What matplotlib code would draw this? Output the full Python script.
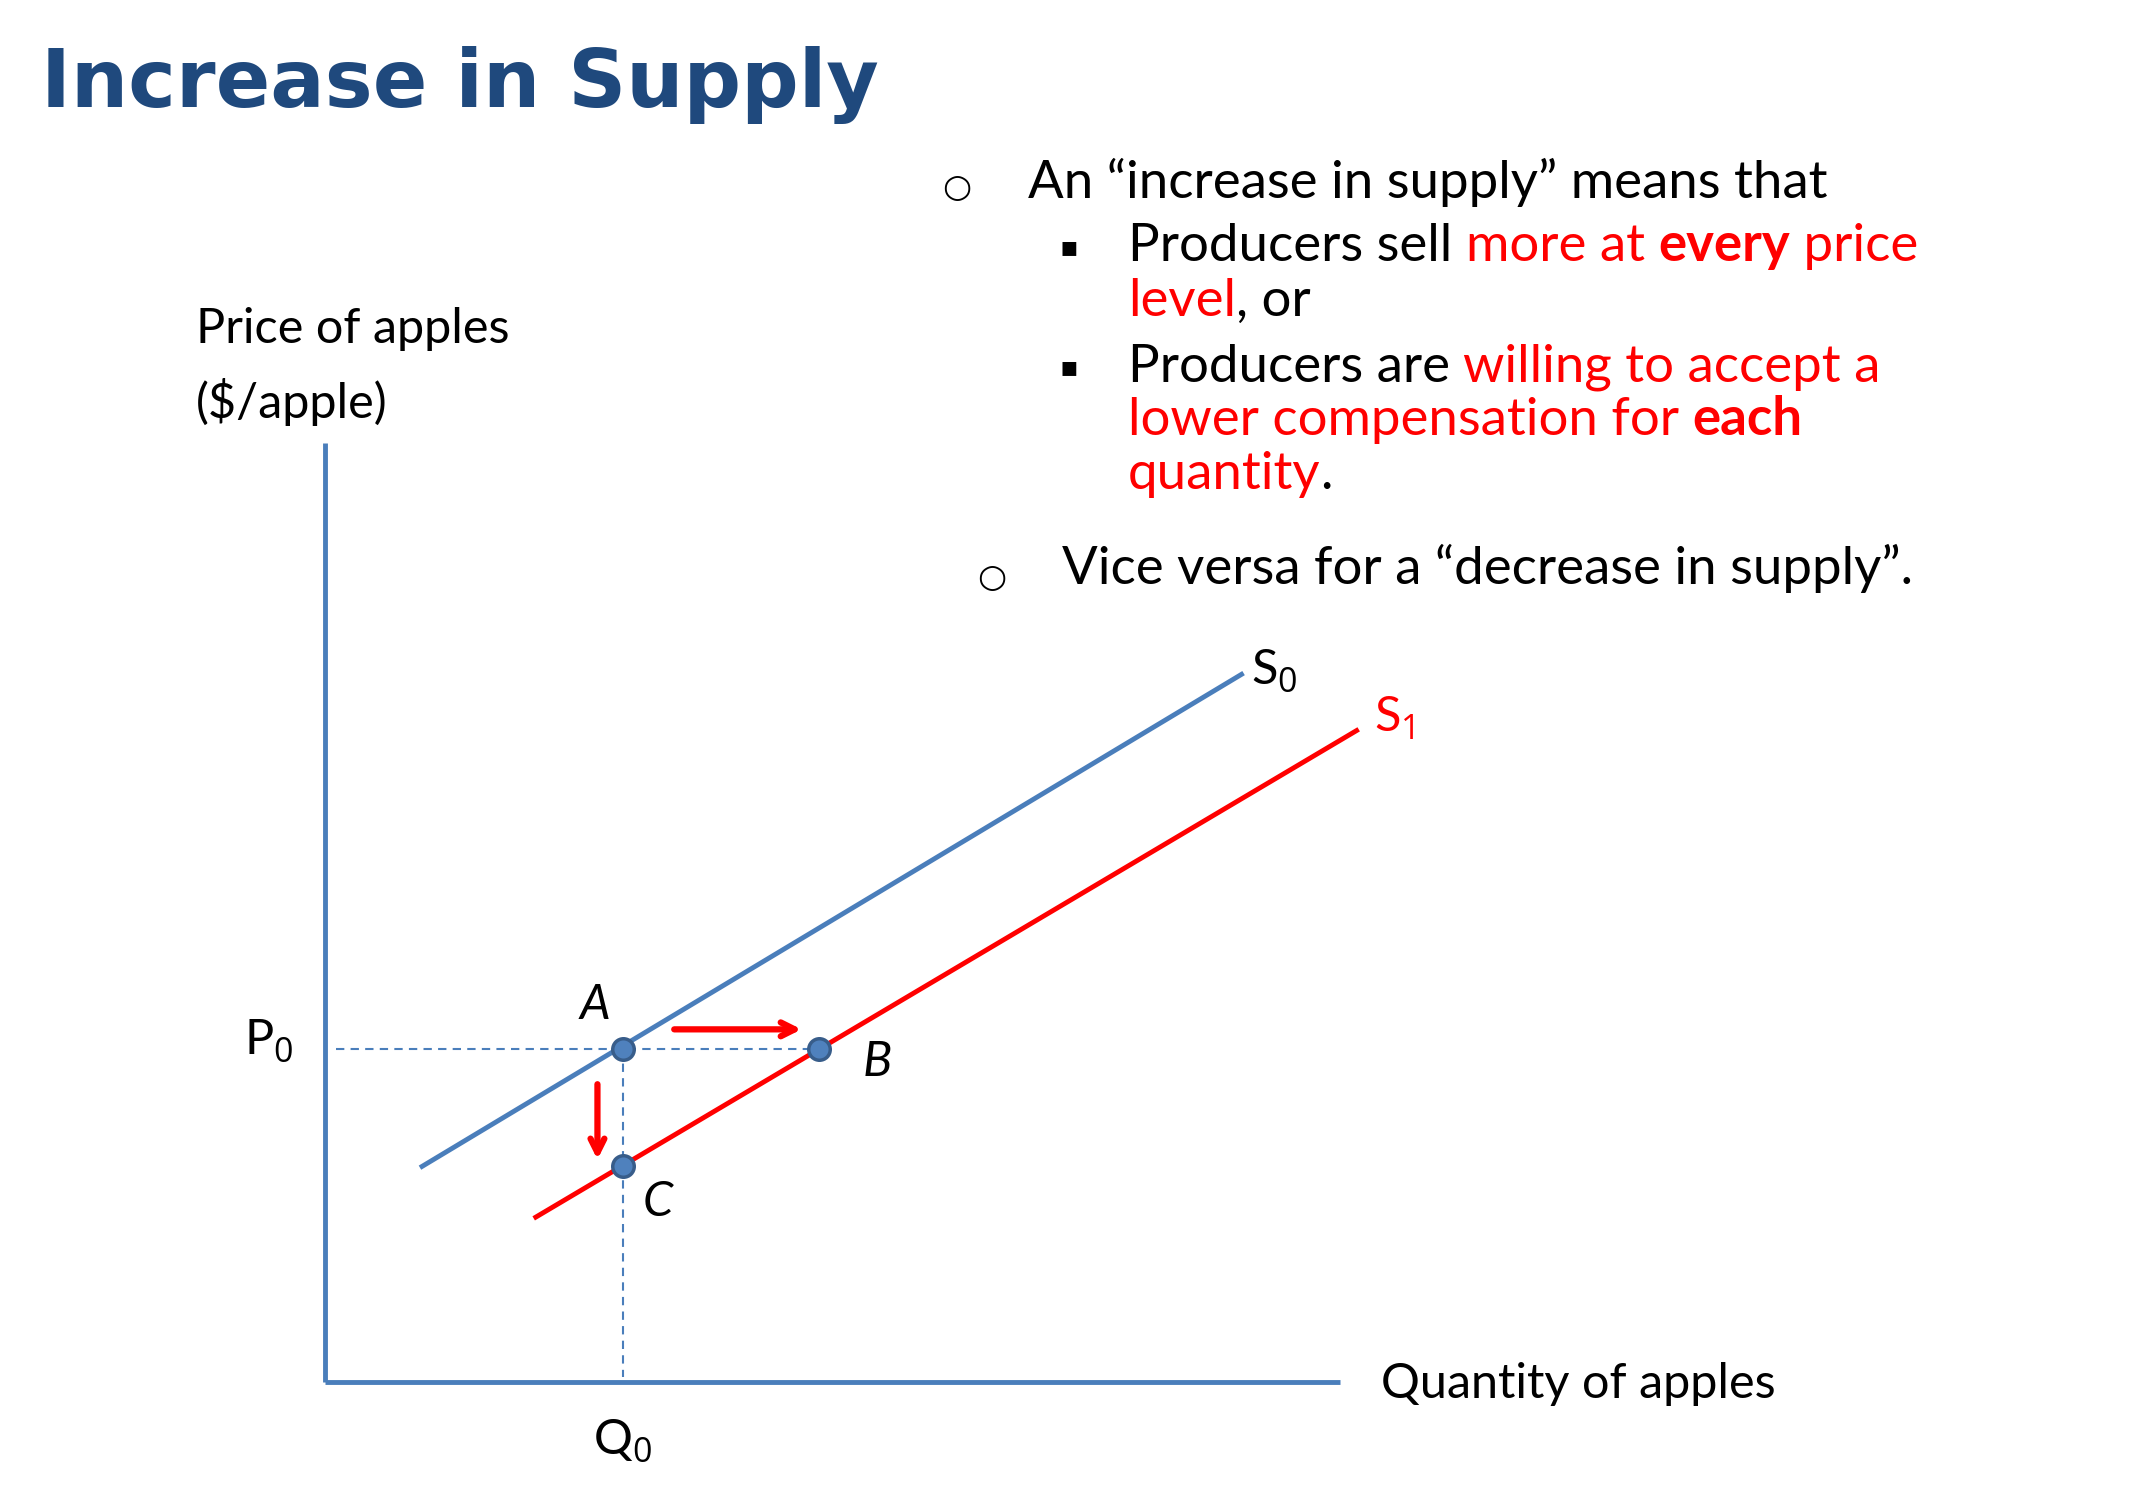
import matplotlib
matplotlib.use("Agg")
import matplotlib.pyplot as plt

plt.rcParams['font.family'] = 'Lato'
plt.rcParams['mathtext.fontset'] = 'custom'
plt.rcParams['mathtext.rm'] = 'Open Sans'
plt.rcParams['mathtext.it'] = 'Open Sans:italic'

BLUE = '#4A7EBB'
RED = '#FF0000'
TITLE = '#1F497D'

# data (slide pixel space)
s0_x = [308, 906]; s0_y = [851, 492]
s1_x = [391, 990]; s1_y = [888, 533]
pt_names = ['A', 'B', 'C']
pt_x = [455, 598, 455]
pt_y = [765, 765, 851]

fig = plt.figure(figsize=(21.5, 14.94), dpi=100)
ax = fig.add_axes([0, 0, 1, 1])
ax.set_xlim(0, 1569); ax.set_ylim(1090, 0); ax.axis('off')

ax.text(30, 62, 'Increase in Supply', fontsize=58, fontweight='bold',
        color=TITLE, family='DejaVu Sans', va='center')

def seg_line(x, y, segs, fs=38):
    prev = None
    for s, c, w in segs:
        if prev is None:
            prev = ax.text(x, y, s, color=c, fontweight=w, fontsize=fs, va='center')
        else:
            prev = ax.annotate(s, xy=(1, 0), xycoords=prev, color=c, fontweight=w,
                               fontsize=fs, va='bottom', ha='left')
K = 'black'
ax.text(698, 137, '○', fontsize=24, ha='center', va='center', family='DejaVu Sans')
seg_line(750, 133, [('An “increase in supply” means that', K, 'normal')])
for yy in (180, 268):
    ax.text(780, yy, '▪', fontsize=20, ha='center', va='center', family='DejaVu Sans')
seg_line(823, 180, [('Producers sell ', K, 'normal'), ('more at ', RED, 'normal'),
                    ('every', RED, 'bold'), (' price', RED, 'normal')])
seg_line(823, 220, [('level', RED, 'normal'), (', or', K, 'normal')])
seg_line(823, 268, [('Producers are ', K, 'normal'), ('willing to accept a', RED, 'normal')])
seg_line(823, 307, [('lower compensation for ', RED, 'normal'), ('each', RED, 'bold')])
seg_line(823, 346, [('quantity', RED, 'normal'), ('.', K, 'normal')])
ax.text(724, 421, '○', fontsize=24, ha='center', va='center', family='DejaVu Sans')
seg_line(775, 415, [('Vice versa for a “decrease in supply”.', K, 'normal')])

LF = 35
ax.text(143, 240, 'Price of apples', fontsize=LF, va='center')
ax.text(143, 293, '($/apple)', fontsize=LF, va='center')
ax.text(1008, 1010, 'Quantity of apples', fontsize=LF, va='center')

# axes
ax.plot([237, 237], [323, 1008], color=BLUE, lw=3.5, solid_capstyle='butt')
ax.plot([237, 978], [1008, 1008], color=BLUE, lw=3.5, solid_capstyle='butt')

# dashed guides
ax.plot([245, pt_x[1]], [pt_y[0], pt_y[0]], color=BLUE, lw=1.5, ls=(0, (4, 3)))
ax.plot([pt_x[0], pt_x[0]], [pt_y[0], 1005], color=BLUE, lw=1.5, ls=(0, (4, 3)))

ax.plot(s0_x, s0_y, color=BLUE, lw=3.5)
ax.plot(s1_x, s1_y, color=RED, lw=3.5)

ax.annotate('', xy=(587, 751), xytext=(490, 751),
            arrowprops=dict(arrowstyle='->,head_length=1.0,head_width=0.5', color=RED, lw=4.5))
ax.annotate('', xy=(436, 848), xytext=(436, 789),
            arrowprops=dict(arrowstyle='->,head_length=1.0,head_width=0.5', color=RED, lw=4.5))

ax.scatter(pt_x, pt_y, s=240, color='#4F81BD', edgecolor='#385D8A', linewidth=2.5, zorder=5)

ax.text(434, 733, 'A', fontsize=LF, style='italic', ha='center', va='center')
ax.text(640, 775, 'B', fontsize=LF, style='italic', ha='center', va='center')
ax.text(480, 877, 'C', fontsize=LF, style='italic', ha='center', va='center')
ax.text(178, 760, r'P$_0$', fontsize=LF, va='center')
ax.text(433, 1052, r'Q$_0$', fontsize=LF, va='center')
ax.text(913, 490, r'S$_0$', fontsize=LF, va='center')
ax.text(1003, 524, r'S$_1$', fontsize=LF, va='center', color=RED)

fig.savefig('out.png', dpi=100, facecolor='white')
